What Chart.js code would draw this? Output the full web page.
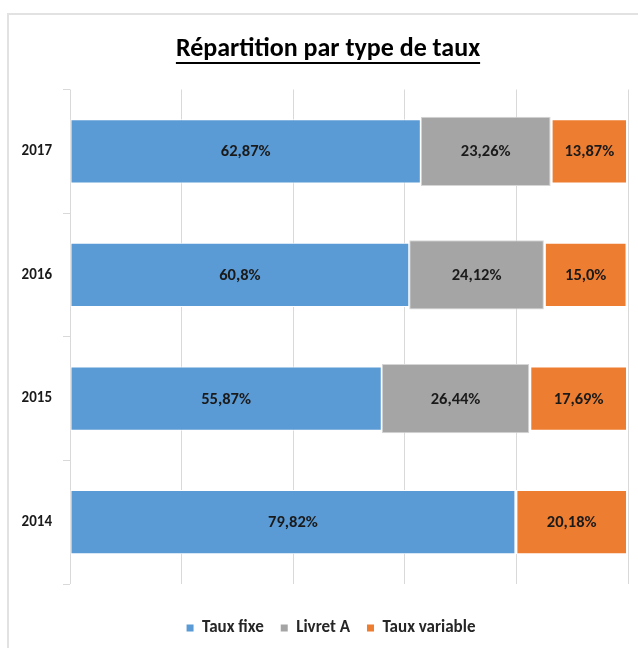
<!DOCTYPE html>
<html><head><meta charset="utf-8">
<script src="https://cdn.jsdelivr.net/npm/chart.js@4.4.1/dist/chart.umd.min.js"></script>
<style>
html,body{margin:0;padding:0;background:#fff;overflow:hidden;}
#wrap{position:relative;width:638px;height:648px;}
#frame{position:absolute;left:7px;top:13px;width:640px;height:650px;border-left:2px solid #e2e2e2;border-top:2px solid #e2e2e2;pointer-events:none;}
canvas{position:absolute;left:0;top:0;}
</style></head><body>
<div id="wrap"><canvas id="c" width="638" height="648"></canvas><div id="frame"></div></div>
<script>
const categories = ['2017', '2016', '2015', '2014'];
const seriesNames = ['Taux fixe', 'Livret A', 'Taux variable'];
const tauxFixe = [62.87, 60.8, 55.87, 79.82];
const livretA = [23.26, 24.12, 26.44, null];
const tauxVariable = [13.87, 15.0, 17.69, 20.18];
const tauxFixeLabels = ['62,87%', '60,8%', '55,87%', '79,82%'];
const livretALabels = ['23,26%', '24,12%', '26,44%', ''];
const tauxVariableLabels = ['13,87%', '15,0%', '17,69%', '20,18%'];
const titleText = 'Répartition par type de taux';

const FONT = 'Carlito, Lato, "Open Sans", sans-serif';
const labelSets = [tauxFixeLabels, livretALabels, tauxVariableLabels];
const TITLE_SIZE = 26, TITLE_PAD_TOP = 33.4;

const dataLabels = {
  id: 'dataLabels',
  afterDatasetsDraw(chart) {
    const ctx = chart.ctx;
    ctx.save();
    ctx.font = 'bold 16.5px ' + FONT;
    ctx.fillStyle = '#1a1a1a';
    ctx.textAlign = 'center';
    ctx.textBaseline = 'middle';
    chart.data.datasets.forEach((ds, i) => {
      const meta = chart.getDatasetMeta(i);
      meta.data.forEach((el, j) => {
        const v = ds.data[j];
        if (v == null || !v) return;
        const p = el.getCenterPoint();
        ctx.fillText(labelSets[i][j], p.x, p.y + 1);
      });
    });
    ctx.restore();
  }
};

const shiftBoxes = {
  id: 'shiftBoxes',
  afterLayout(chart) {
    if (chart.legend) { chart.legend.left = 34; chart.legend.top += 2; chart.legend.bottom += 2; }
    if (chart.titleBlock) chart.titleBlock.left = 28;
  }
};

const underline = {
  id: 'underline',
  afterDraw(chart) {
    const tb = chart.titleBlock;
    if (!tb) return;
    const ctx = chart.ctx;
    ctx.save();
    ctx.font = 'bold ' + TITLE_SIZE + 'px ' + FONT;
    const w = ctx.measureText(titleText).width;
    const cx = tb.left + (tb.right - tb.left) / 2;
    const cy = tb.top + TITLE_PAD_TOP + TITLE_SIZE * 0.6;
    ctx.fillStyle = '#000';
    ctx.fillRect(cx - w / 2, cy + 13, w, 2);
    ctx.restore();
  }
};

new Chart(document.getElementById('c'), {
  type: 'bar',
  data: {
    labels: categories,
    datasets: [
      { label: seriesNames[0], data: tauxFixe, backgroundColor: '#5B9BD5', borderColor: '#ffffff', borderWidth: 1, borderSkipped: false, barPercentage: 0.52, categoryPercentage: 1 },
      { label: seriesNames[1], data: livretA, backgroundColor: '#A5A5A5', borderColor: '#d6d6d6', borderWidth: 1, borderSkipped: false, barPercentage: 0.56, categoryPercentage: 1 },
      { label: seriesNames[2], data: tauxVariable, backgroundColor: '#ED7D31', borderColor: '#ffffff', borderWidth: { left: 2, right: 2, top: 1, bottom: 1 }, borderSkipped: false, barPercentage: 0.52, categoryPercentage: 1 }
    ]
  },
  options: {
    indexAxis: 'y',
    responsive: false,
    animation: false,
    layout: { padding: { left: 0, right: 10, top: 0, bottom: 3.5 } },
    scales: {
      x: {
        stacked: true, min: 0, max: 100,
        ticks: { display: false, stepSize: 20 },
        grid: { color: '#d9d9d9', drawTicks: false, lineWidth: 1 },
        border: { display: false },
        afterFit(s) { s.height = 16.5; }
      },
      y: {
        stacked: true,
        grid: { display: true, drawOnChartArea: false, drawTicks: true, tickLength: 7, color: '#d9d9d9', offset: true },
        border: { display: false },
        ticks: { padding: 11, color: '#1a1a1a', font: { family: FONT, size: 15, weight: 'bold' } },
        afterFit(s) { s.width = 70; }
      }
    },
    plugins: {
      title: { display: true, text: titleText, color: '#000', font: { family: FONT, size: TITLE_SIZE, weight: 'bold' }, padding: { top: TITLE_PAD_TOP, bottom: 24.9 } },
      legend: {
        position: 'bottom',
        labels: {
          boxWidth: 7, boxHeight: 7, padding: 17, color: '#262626',
          font: { family: FONT, size: 17, weight: 'bold' },
          generateLabels(chart) {
            return chart.data.datasets.map((d, i) => ({ text: d.label, fillStyle: d.backgroundColor, strokeStyle: d.backgroundColor, lineWidth: 0, hidden: false, datasetIndex: i, fontColor: '#262626' }));
          }
        }
      },
      tooltip: { enabled: false }
    }
  },
  plugins: [dataLabels, shiftBoxes, underline]
});
</script>
</body></html>
